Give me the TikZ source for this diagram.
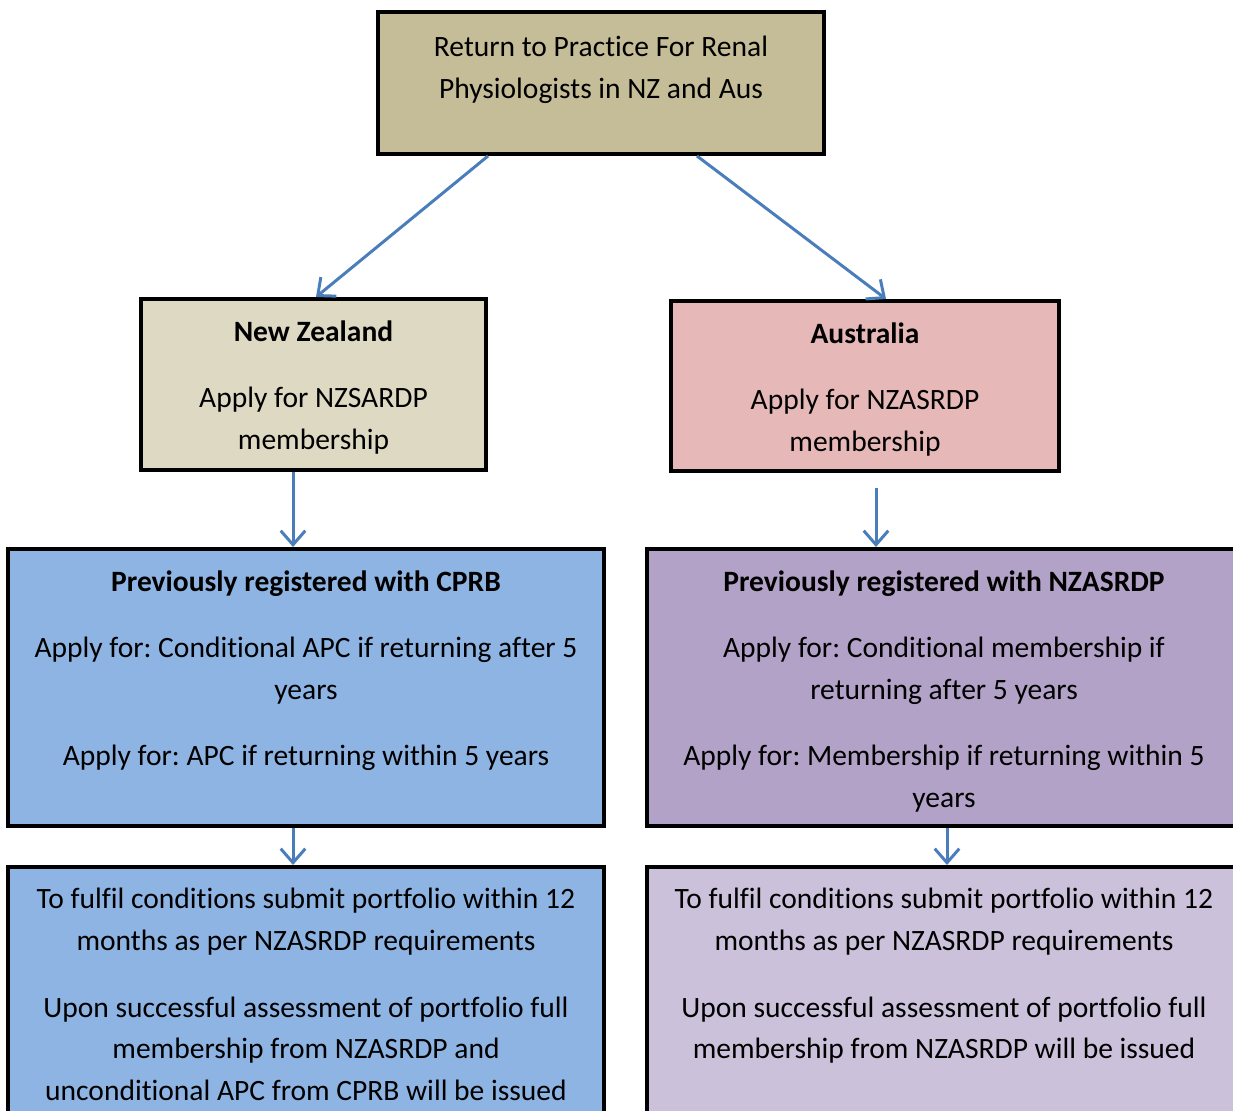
\documentclass[tikz,border=0pt]{standalone}
\usepackage{fontspec}
\setmainfont[Ligatures=NoCommon]{Carlito}
\usetikzlibrary{arrows.meta}

\definecolor{topTan}{HTML}{C4BD97}
\definecolor{nzBeige}{HTML}{DDD9C3}
\definecolor{ausPink}{HTML}{E6B9B8}
\definecolor{cprbBlue}{HTML}{8EB4E3}
\definecolor{regPurple}{HTML}{B3A2C7}
\definecolor{lightPurple}{HTML}{CCC1DA}
\definecolor{flowBlue}{HTML}{4A7EBB}

\begin{document}
\frenchspacing
\begin{tikzpicture}[
    x=0.02cm, y=-0.02cm,
    box/.style={draw=black, line width=2.3pt, inner sep=0pt},
    label/.style={anchor=north, align=center, inner sep=0pt,
        font=\fontsize{16.8}{23.8}\selectfont},
    flow/.style={draw=flowBlue, line width=1.7pt,
        -{Straight Barb[length=8pt, width=14pt, line width=1.7pt]}},
    ]

\useasboundingbox (0,0) rectangle (1233,1111);
\clip (0,0) rectangle (1233,1111);

% Boxes
\node [box, fill=topTan, minimum width=8.92cm, minimum height=2.84cm] (Top) at (601,83) {};
\node [box, fill=nzBeige, minimum width=6.9cm, minimum height=3.42cm] (NewZealand) at (313.5,384.5) {};
\node [box, fill=ausPink, minimum width=7.76cm, minimum height=3.4cm] (Australia) at (865,386) {};
\node [box, fill=cprbBlue, minimum width=11.92cm, minimum height=5.54cm] (CPRB) at (306,687.5) {};
\node [box, fill=regPurple, minimum width=11.88cm, minimum height=5.54cm] (NZASRDP) at (944,687.5) {};
\node [box, fill=cprbBlue, minimum width=11.92cm, minimum height=5.46cm] (PortfolioNZ) at (306,1003.5) {};
\node [box, fill=lightPurple, minimum width=11.88cm, minimum height=5.46cm] (PortfolioAus) at (944,1003.5) {};

% Texts
\node [label] (TopText) at ([yshift=-0.52cm]Top.north)
    {Return to Practice For Renal\\Physiologists in NZ and Aus};
\node [label] (NewZealandText) at ([yshift=-0.46cm]NewZealand.north)
    {\textbf{New Zealand}\\[14pt]Apply for NZSARDP\\membership};
\node [label] (AustraliaText) at ([yshift=-0.46cm]Australia.north)
    {\textbf{Australia}\\[14pt]Apply for NZASRDP\\membership};
\node [label] (CPRBText) at ([yshift=-0.46cm]CPRB.north)
    {\textbf{Previously registered with CPRB}\\[14pt]
     Apply for: Conditional APC if returning after 5\\years\\[14pt]
     Apply for: APC if returning within 5 years};
\node [label] (NZASRDPText) at ([yshift=-0.46cm]NZASRDP.north)
    {\textbf{Previously registered with NZASRDP}\\[14pt]
     Apply for: Conditional membership if\\returning after 5 years\\[14pt]
     Apply for: Membership if returning within 5\\years};
\node [label] (PortfolioNZText) at ([yshift=-0.46cm]PortfolioNZ.north)
    {To fulfil conditions submit portfolio within 12\\months as per NZASRDP requirements\\[14pt]
     Upon successful assessment of portfolio full\\membership from NZASRDP and\\unconditional APC from CPRB will be issued};
\node [label] (PortfolioAusText) at ([yshift=-0.46cm]PortfolioAus.north)
    {To fulfil conditions submit portfolio within 12\\months as per NZASRDP requirements\\[14pt]
     Upon successful assessment of portfolio full\\membership from NZASRDP will be issued};

% Arrows
\draw [flow] ([xshift=-2.26cm]Top.south) -- ([xshift=0.05cm]NewZealand.north);
\draw [flow] ([xshift=1.92cm]Top.south) -- ([xshift=0.42cm]Australia.north);
\draw [flow] ([xshift=-0.41cm]NewZealand.south) -- ([xshift=-0.41cm]NewZealand.south |- CPRB.north);
\draw [flow, shorten <=0.3cm] ([xshift=0.22cm]Australia.south) -- ([xshift=0.22cm]Australia.south |- NZASRDP.north);
\draw [flow] ([xshift=-0.26cm]CPRB.south) -- ([xshift=-0.26cm]CPRB.south |- PortfolioNZ.north);
\draw [flow] ([xshift=0.06cm]NZASRDP.south) -- ([xshift=0.06cm]NZASRDP.south |- PortfolioAus.north);

\end{tikzpicture}
\end{document}
